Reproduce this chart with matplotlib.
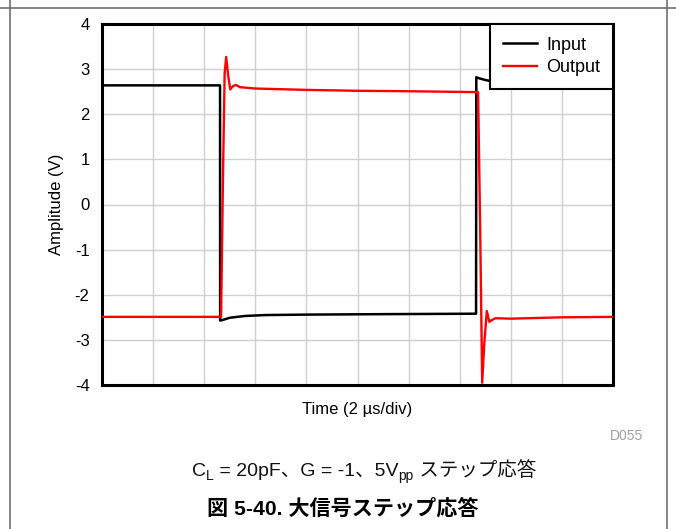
import matplotlib
matplotlib.use("Agg")
import matplotlib.pyplot as plt
from matplotlib.lines import Line2D

# time axis in divisions (2 us/div), amplitude in volts
t_input = [0, 2.31, 2.312, 2.36, 2.5, 2.8, 3.2, 4.0, 5.5, 7.32, 7.325, 7.37, 7.5, 7.7, 8.2, 10]
v_input = [2.64, 2.64, -2.57, -2.56, -2.51, -2.47, -2.45, -2.44, -2.43, -2.42, 2.82, 2.80, 2.76, 2.71, 2.66, 2.63]

t_output = [0, 2.33, 2.37, 2.40, 2.43, 2.47, 2.51, 2.56, 2.62, 2.70, 3.0, 4.0, 5.0, 6.0, 7.36,
            7.40, 7.44, 7.48, 7.53, 7.58, 7.63, 7.70, 8.0, 9.0, 10]
v_output = [-2.49, -2.49, 0.8, 2.9, 3.27, 2.85, 2.55, 2.62, 2.65, 2.6, 2.57, 2.54, 2.52, 2.51, 2.49,
            -0.5, -3.95, -3.1, -2.36, -2.6, -2.56, -2.52, -2.53, -2.50, -2.49]

y_ticks = [-4, -3, -2, -1, 0, 1, 2, 3, 4]
x_grid = list(range(11))

latin = "Liberation Sans"
mixed = ["Liberation Sans", "Noto Sans CJK JP"]
plt.rcParams["font.family"] = mixed

W, H = 676, 529
fig = plt.figure(figsize=(W / 100, H / 100), dpi=100)
ax = fig.add_axes([102 / W, 1 - 385 / H, 511 / W, 361 / H])

ax.plot(t_input, v_input, color="black", lw=1.8, label="Input", zorder=3)
ax.plot(t_output, v_output, color="#ff0000", lw=1.7, label="Output", zorder=4)

ax.set_xlim(0, 10)
ax.set_ylim(-4, 4)
ax.set_xticks(x_grid)
ax.set_xticklabels([])
ax.set_yticks(y_ticks)
ax.set_yticklabels([str(v) for v in y_ticks], fontsize=12, family=latin)
ax.tick_params(length=0, pad=9)
ax.grid(True, color="#d0d0d0", lw=1)
for s in ax.spines.values():
    s.set_linewidth(2.2)

ax.set_xlabel("Time (2 µs/div)", fontsize=12, family=latin, labelpad=3)
ax.set_ylabel("Amplitude (V)", fontsize=12, family=latin, labelpad=8)

leg = ax.legend(loc="upper right", borderaxespad=0, fancybox=False,
                handlelength=1.9, handletextpad=0.5, borderpad=0.7, labelspacing=0.3,
                prop={"family": latin, "size": 13})
leg.get_frame().set_edgecolor("black")
leg.get_frame().set_linewidth(1.5)
leg.get_frame().set_alpha(1)
leg.set_zorder(10)

fig.text(643 / W, 1 - 436 / H, "D055", color="#a0a0a0", fontsize=10, family=latin,
         ha="right", va="center")

# caption with subscripts, pieces placed one after another
renderer = fig.canvas.get_renderer()
pieces = [("C", 14, 0), ("L", 10, -4), (" = 20pF、G = -1、5V", 14, 0), ("pp", 10, -4),
          (" ステップ応答", 14, 0)]
texts = []
total = 0
for s, size, dy in pieces:
    tx = fig.text(0, 0, s, fontsize=size, family=mixed, va="baseline", ha="left", color="#111111")
    w = tx.get_window_extent(renderer).width
    texts.append((tx, w, dy))
    total += w
x = 364 - total / 2
base = 476
for tx, w, dy in texts:
    tx.set_position((x / W, 1 - (base - dy) / H))
    x += w

fig.text(343 / W, 1 - 508 / H, "図 5-40. 大信号ステップ応答", fontsize=15.2, fontweight="bold",
         family=mixed, ha="center", va="center")

# page frame lines
fig.add_artist(Line2D([0, 1], [1 - 7.5 / H] * 2, transform=fig.transFigure, color="#707070", lw=1.2))
fig.add_artist(Line2D([9.5 / W] * 2, [0, 1], transform=fig.transFigure, color="#707070", lw=1.2))
fig.add_artist(Line2D([667 / W] * 2, [0, 1], transform=fig.transFigure, color="#707070", lw=1.2))

fig.savefig("out.png", dpi=100)
